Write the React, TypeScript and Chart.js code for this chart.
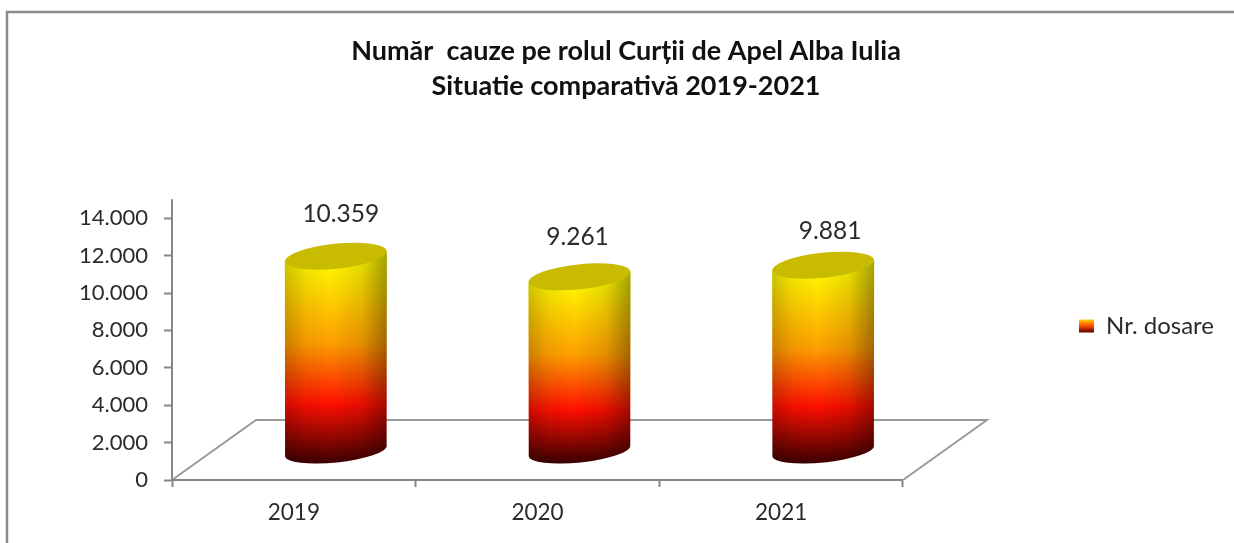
import React, { useEffect, useRef } from "react";
import { Chart, registerables } from "chart.js";

Chart.register(...registerables);

const categories = ["2019", "2020", "2021"];
const seriesName = "Nr. dosare";
const caseCounts = [10359, 9261, 9881];
const titleLines = ["Număr  cauze pe rolul Curții de Apel Alba Iulia", "Situatie comparativă 2019-2021"];
const labelShiftX = [5, -2, 7];
const labelShiftY = [-42, -40, -34];

const AXIS = "#868686";
const TEXT = "#2b2b2b";
const FONT = "Lato";
const DEPTH_X = 84;
const DEPTH_Y = 60;
const fmt = (v: number) => String(v).replace(/\B(?=(\d{3})+$)/g, ".");

const scene = {
  id: "scene",
  afterLayout(chart: any) {
    chart.titleBlock.left += 97;
    chart.titleBlock.right += 97;
    const l = chart.legend;
    const w = l.right - l.left;
    const h = l.bottom - l.top;
    l.left = 1079 - 10;
    l.right = l.left + w;
    l.top = 326 - h / 2;
    l.bottom = l.top + h;
  },
  beforeDraw(chart: any) {
    const { ctx, chartArea: a } = chart;
    ctx.save();
    ctx.strokeStyle = "#8a8a8a";
    ctx.lineWidth = 2.5;
    ctx.beginPath();
    ctx.moveTo(7, 543);
    ctx.lineTo(7, 12);
    ctx.lineTo(1234, 12);
    ctx.stroke();
    // 3D floor
    ctx.strokeStyle = "#9a9a9a";
    ctx.lineWidth = 2;
    ctx.beginPath();
    ctx.moveTo(a.left, a.bottom);
    ctx.lineTo(a.left + DEPTH_X, a.bottom - DEPTH_Y);
    ctx.lineTo(a.right + DEPTH_X, a.bottom - DEPTH_Y);
    ctx.lineTo(a.right, a.bottom);
    ctx.stroke();
    // y axis runs past the top tick
    ctx.strokeStyle = AXIS;
    ctx.lineWidth = 2;
    ctx.beginPath();
    ctx.moveTo(a.left, a.top);
    ctx.lineTo(a.left, a.top - 19);
    ctx.stroke();
    ctx.restore();
  },
  afterDatasetsDraw(chart: any) {
    const { ctx } = chart;
    const meta = chart.getDatasetMeta(0);
    const base = chart.scales.y.getPixelForValue(0) - DEPTH_Y / 2;
    meta.data.forEach((bar: any, i: number) => {
      const cx = bar.x + DEPTH_X / 2;
      const top = bar.y - DEPTH_Y / 2;
      const rx = bar.width / 2;
      const ry = 11.5;
      const rot = -0.105;
      ctx.save();
      const path = new Path2D();
      path.ellipse(cx, base + 1, rx, ry, rot, 0, Math.PI);
      path.lineTo(cx - rx, top + 5);
      path.lineTo(cx + rx, top - 5);
      path.closePath();
      const g = ctx.createLinearGradient(0, top, 0, base + 12);
      g.addColorStop(0, "#ffff00");
      g.addColorStop(0.42, "#ff9f00");
      g.addColorStop(0.72, "#ff0f00");
      g.addColorStop(1, "#400000");
      ctx.fillStyle = g;
      ctx.fill(path);
      const s = ctx.createLinearGradient(cx - rx, 0, cx + rx, 0);
      s.addColorStop(0, "rgba(0,0,0,0.2)");
      s.addColorStop(0.2, "rgba(0,0,0,0.06)");
      s.addColorStop(0.45, "rgba(0,0,0,0)");
      s.addColorStop(0.75, "rgba(0,0,0,0.1)");
      s.addColorStop(1, "rgba(0,0,0,0.36)");
      ctx.fillStyle = s;
      ctx.fill(path);
      ctx.beginPath();
      ctx.ellipse(cx, top, rx, ry + 1, rot, 0, Math.PI * 2);
      ctx.fillStyle = "#c9bb00";
      ctx.fill();
      ctx.fillStyle = TEXT;
      ctx.font = `24.5px ${FONT}`;
      ctx.textAlign = "center";
      ctx.textBaseline = "middle";
      ctx.fillText(fmt(caseCounts[i]), cx + labelShiftX[i], bar.y - DEPTH_Y / 2 + labelShiftY[i]);
      ctx.restore();
    });
  },
};

export default function App() {
  const ref = useRef<HTMLCanvasElement>(null);
  useEffect(() => {
    const canvas = ref.current!;
    const c2d = canvas.getContext("2d")!;
    const lg = c2d.createLinearGradient(0, 319, 0, 332);
    lg.addColorStop(0, "#ffdd00");
    lg.addColorStop(0.5, "#ff5500");
    lg.addColorStop(1, "#6a0000");
    const chart = new Chart(canvas, {
      type: "bar",
      data: {
        labels: categories,
        datasets: [
          {
            label: seriesName,
            data: caseCounts,
            backgroundColor: "rgba(0,0,0,0)",
            barThickness: 102,
          },
        ],
      },
      options: {
        responsive: false,
        animation: false,
        layout: { padding: { right: 176, bottom: 0 } },
        plugins: {
          tooltip: { enabled: false },
          title: {
            display: true,
            text: titleLines,
            color: "#111",
            font: { family: FONT, size: 27, weight: "bold", lineHeight: 1.3 },
            padding: { top: 34, bottom: 114 },
          },
          legend: {
            position: "right",
            labels: {
              color: TEXT,
              font: { family: FONT, size: 24 },
              boxWidth: 15,
              boxHeight: 13,
              padding: 10,
              generateLabels: () => [
                { text: seriesName, fillStyle: lg, strokeStyle: "rgba(0,0,0,0)", lineWidth: 0, fontColor: TEXT, datasetIndex: 0 },
              ],
            },
          },
        },
        scales: {
          x: {
            border: { color: AXIS, width: 2 },
            grid: { drawOnChartArea: false, drawTicks: true, tickLength: 7, tickColor: AXIS, tickWidth: 2 },
            ticks: { color: TEXT, font: { family: FONT, size: 22.5 }, padding: 12 },
            afterFit: (s: any) => { s.height = 63; },
          },
          y: {
            min: 0,
            max: 14000,
            border: { color: AXIS, width: 2 },
            grid: { drawOnChartArea: false, drawTicks: true, tickLength: 8, tickColor: AXIS, tickWidth: 2 },
            ticks: { stepSize: 2000, color: TEXT, font: { family: FONT, size: 22 }, padding: 16, callback: (v: any) => fmt(Number(v)) },
            afterFit: (s: any) => { s.width = 172; },
          },
        },
      },
      plugins: [scene],
    } as any);
    return () => chart.destroy();
  }, []);
  return (
    <canvas
      ref={ref}
      width={1234}
      height={543}
      style={{ position: "fixed", left: 0, top: 0, width: 1234, height: 543, background: "#fff" }}
    />
  );
}
